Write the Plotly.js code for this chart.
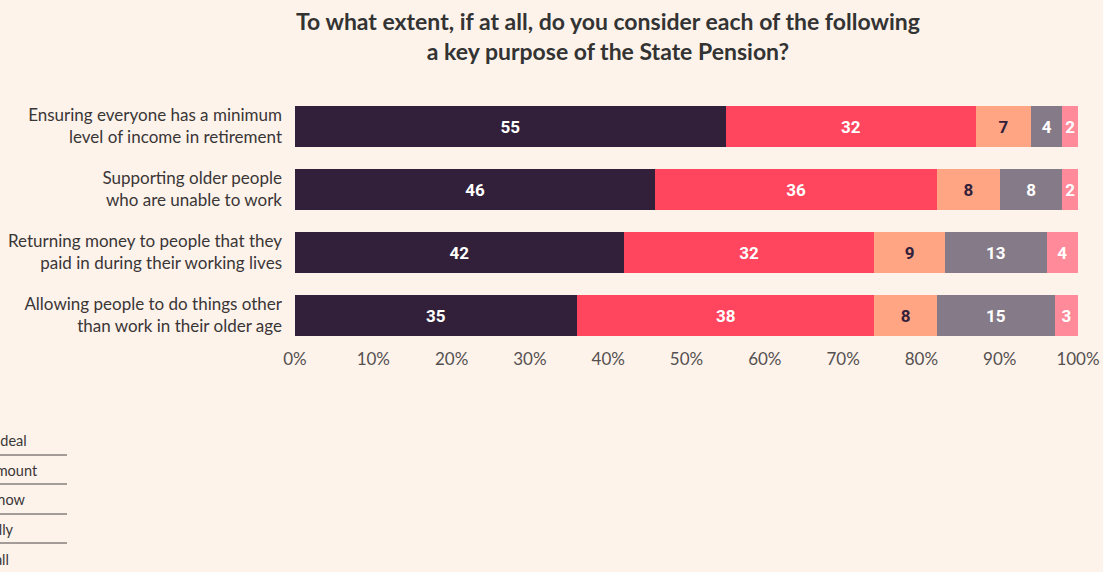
<!DOCTYPE html>
<html>
<head>
<meta charset="utf-8">
<script src="https://cdn.plot.ly/plotly-3.0.1.min.js"></script>
<style>
html,body{margin:0;padding:0;background:#fdf3eb;}
#chart{width:1103px;height:572px;}
</style>
</head>
<body>
<div id="chart"></div>
<script>
// ---- data ----
const categories = [
  "Ensuring everyone has a minimum<br>level of income in retirement",
  "Supporting older people<br>who are unable to work",
  "Returning money to people that they<br>paid in during their working lives",
  "Allowing people to do things other<br>than work in their older age"
];
const seriesNames = ["A great deal", "A fair amount", "Don't know", "Not really", "Not at all"];
// bar lengths (%) as drawn
const greatDeal  = [55, 46, 42, 36];
const fairAmount = [32, 36, 32, 38];
const dontKnow   = [7, 8, 9, 8];
const notReally  = [4, 8, 13, 15];
const notAtAll   = [2, 2, 4, 3];
// printed labels
const greatDealLabels  = ["55", "46", "42", "35"];
const fairAmountLabels = ["32", "36", "32", "38"];
const dontKnowLabels   = ["7", "8", "9", "8"];
const notReallyLabels  = ["4", "8", "13", "15"];
const notAtAllLabels   = ["2", "2", "4", "3"];
const xTickVals = [0,10,20,30,40,50,60,70,80,90,100];
const xTickText = ["0%","10%","20%","30%","40%","50%","60%","70%","80%","90%","100%"];

const colors = ["#32203a", "#ff465e", "#ffa584", "#857a87", "#ff8a99"];
const textColors = ["#ffffff", "#ffffff", "#32203a", "#ffffff", "#ffffff"];
const values = [greatDeal, fairAmount, dontKnow, notReally, notAtAll];
const labels = [greatDealLabels, fairAmountLabels, dontKnowLabels, notReallyLabels, notAtAllLabels];

const traces = seriesNames.map((name, i) => ({
  type: "bar",
  orientation: "h",
  name: name,
  legendgroup: "g" + i,
  x: values[i],
  y: categories,
  text: labels[i],
  texttemplate: "%{text}",
  textposition: "inside",
  insidetextanchor: "middle",
  textangle: 0,
  constraintext: "none",
  textfont: {family: "Liberation Sans Narrow, Roboto, sans-serif", size: 17, color: textColors[i], weight: 700},
  marker: {color: colors[i], line: {width: 0}},
  hoverinfo: "name+x"
}));

// legend separator lines (decoration)
const sepY = [-0.4286, -0.5437, -0.6627, -0.7778];
const shapes = sepY.map(y => ({
  type: "line", xref: "paper", yref: "paper",
  x0: -0.52, x1: -0.2912, y0: y, y1: y,
  line: {color: "#4a4444", width: 1}
}));

const layout = {
  width: 1103, height: 572,
  paper_bgcolor: "#fdf3eb", plot_bgcolor: "#fdf3eb",
  barmode: "stack",
  bargap: 0.35,
  margin: {l: 295, r: 25, t: 95, b: 225, autoexpand: false},
  font: {family: "Lato, 'Open Sans', sans-serif", color: "#3a3636"},
  title: {
    text: "<b>To what extent, if at all, do you consider each of the following<br>a key purpose of the State Pension?</b>",
    x: 0.5512, xref: "container", xanchor: "center",
    y: 0.948, yref: "container", yanchor: "top",
    font: {family: "Lato, sans-serif", size: 23, color: "#333333"}
  },
  xaxis: {
    range: [0, 100],
    tickmode: "array",
    tickvals: xTickVals,
    ticktext: xTickText,
    showgrid: false, zeroline: false, showline: false,
    ticks: "",
    tickfont: {family: "Lato, sans-serif", size: 17, color: "#555050"},
    fixedrange: true
  },
  yaxis: {
    autorange: "reversed",
    showgrid: false, zeroline: false, showline: false,
    ticks: "",
    ticklabelstandoff: 12,
    tickfont: {family: "Lato, sans-serif", size: 17, color: "#3a3636"},
    fixedrange: true
  },
  showlegend: true,
  legend: {
    orientation: "v",
    traceorder: "grouped",
    tracegroupgap: 8,
    x: -0.4904, xanchor: "left",
    y: -0.306, yanchor: "top",
    bgcolor: "rgba(0,0,0,0)",
    font: {family: "Lato, sans-serif", size: 14.5, color: "#3a3636"}
  },
  shapes: shapes
};

Plotly.newPlot("chart", traces, layout, {displayModeBar: false, responsive: false});
</script>
</body>
</html>
